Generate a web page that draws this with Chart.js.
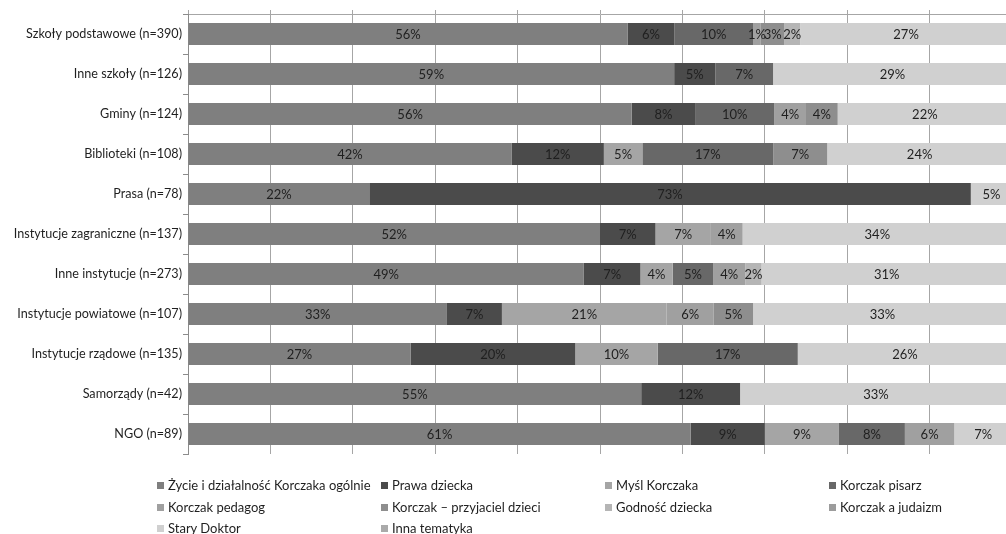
<!DOCTYPE html>
<html lang="pl">
<head>
<meta charset="UTF-8" />
<title>Tematyka wydarzeń korczakowskich</title>
<script src="https://cdn.jsdelivr.net/npm/chart.js"></script>
<style>
    html, body { margin: 0; padding: 0; background: #fff; overflow: hidden; }
    #wrap { position: relative; width: 1006px; height: 534px; overflow: hidden; }
    #chart { position: absolute; left: 0; top: 0; }
    .legend-item {
        position: absolute;
        font: 13px Lato, sans-serif;
        color: #1f1f1f;
        white-space: nowrap;
        line-height: 16px;
    }
    .legend-item i {
        display: inline-block;
        width: 7px;
        height: 7px;
        margin-right: 4px;
        vertical-align: 1px;
    }
</style>
</head>
<body>
<div id="wrap">
    <canvas id="chart" width="1020" height="534"></canvas>
</div>
<script>
// Kategorie instytucji (oś pionowa)
const categories = [
    "Szkoły podstawowe (n=390)",
    "Inne szkoły (n=126)",
    "Gminy (n=124)",
    "Biblioteki (n=108)",
    "Prasa (n=78)",
    "Instytucje zagraniczne (n=137)",
    "Inne instytucje (n=273)",
    "Instytucje powiatowe (n=107)",
    "Instytucje rządowe (n=135)",
    "Samorządy (n=42)",
    "NGO (n=89)",
];

// Odsetki wskazań dla każdej tematyki (wielokrotny wybór, więc sumy > 100)
const zycie      = [56, 59, 56, 42, 22, 52, 49, 33, 27, 55, 61];
const prawa      = [6, 5, 8, 12, 73, 7, 7, 7, 20, 12, 9];
const mysl       = [0, 0, 0, 5, 0, 7, 4, 21, 10, 0, 9];
const pisarz     = [10, 7, 10, 17, 0, 0, 5, 0, 17, 0, 8];
const pedagog    = [1, 0, 4, 0, 0, 4, 4, 6, 0, 0, 6];
const przyjaciel = [3, 0, 4, 7, 0, 0, 0, 5, 0, 0, 0];
const godnosc    = [2, 0, 0, 0, 0, 0, 2, 0, 0, 0, 0];
const judaizm    = [0, 0, 0, 0, 0, 0, 0, 0, 0, 0, 0];
const staryDoktor = [27, 29, 22, 24, 5, 34, 31, 33, 26, 33, 7];
const inna       = [0, 0, 0, 0, 0, 0, 0, 0, 0, 0, 0];

const seriesNames = [
    "Życie i działalność Korczaka ogólnie",
    "Prawa dziecka",
    "Myśl Korczaka",
    "Korczak pisarz",
    "Korczak pedagog",
    "Korczak – przyjaciel dzieci",
    "Godność dziecka",
    "Korczak a judaizm",
    "Stary Doktor",
    "Inna tematyka",
];
const seriesValues = [zycie, prawa, mysl, pisarz, pedagog, przyjaciel, godnosc, judaizm, staryDoktor, inna];
const seriesColors = [
    "#7f7f7f", "#4b4b4b", "#a5a5a5", "#686868", "#a0a0a0",
    "#8e8e8e", "#b5b5b5", "#9c9c9c", "#d0d0d0", "#aaaaaa",
];

// Słupki skumulowane do 100% - udział liczony względem sumy w wierszu
const rowTotals = categories.map((_, i) =>
    seriesValues.reduce((sum, s) => sum + s[i], 0)
);

const datasets = seriesValues.map((vals, k) => ({
    label: seriesNames[k],
    data: vals.map((v, i) => (v / rowTotals[i]) * 100),
    values: vals,
    backgroundColor: seriesColors[k],
    borderWidth: 0,
    barPercentage: 0.55,
    categoryPercentage: 1.0,
}));

// Etykiety z wartościami na środku każdego segmentu
const valueLabels = {
    id: "valueLabels",
    afterDatasetsDraw(chart) {
        const ctx = chart.ctx;
        ctx.save();
        ctx.font = "13px Lato, sans-serif";
        ctx.fillStyle = "#1f1f1f";
        ctx.textAlign = "center";
        ctx.textBaseline = "middle";
        chart.data.datasets.forEach((ds, k) => {
            const meta = chart.getDatasetMeta(k);
            meta.data.forEach((bar, i) => {
                const v = ds.values[i];
                if (!v) return;
                const p = bar.getCenterPoint();
                ctx.fillText(v + "%", p.x, p.y + 1);
            });
        });
        ctx.restore();
    },
};

new Chart(document.getElementById("chart"), {
    type: "bar",
    data: { labels: categories, datasets: datasets },
    options: {
        indexAxis: "y",
        responsive: false,
        animation: false,
        layout: { padding: { top: 10, right: 8, bottom: 80, left: 0 } },
        plugins: {
            legend: { display: false },
            tooltip: { enabled: false },
        },
        scales: {
            x: {
                position: "top",
                stacked: true,
                min: 0,
                max: 100,
                ticks: { display: false, stepSize: 10 },
                grid: { color: "#a6a6a6", lineWidth: 1, tickLength: 4 },
                border: { display: true, color: "#a6a6a6" },
            },
            y: {
                stacked: true,
                ticks: {
                    color: "#1f1f1f",
                    font: { family: "Lato, sans-serif", size: 12.6 },
                    padding: 1,
                },
                grid: {
                    offset: true,
                    drawOnChartArea: false,
                    color: "#8c8c8c",
                    tickLength: 5,
                },
                border: { display: true, color: "#8c8c8c" },
                afterFit(scale) { scale.width = 188; },
            },
        },
    },
    plugins: [valueLabels],
});

// Legenda w czterech kolumnach pod wykresem
const wrap = document.getElementById("wrap");
const legendCols = [157, 381, 605, 829];
const legendRows = [485, 507, 528];
seriesNames.forEach((name, k) => {
    const item = document.createElement("div");
    item.className = "legend-item";
    item.style.left = legendCols[k % 4] + "px";
    item.style.top = (legendRows[Math.floor(k / 4)] - 8) + "px";
    item.innerHTML = '<i style="background:' + seriesColors[k] + '"></i>';
    item.appendChild(document.createTextNode(name));
    wrap.appendChild(item);
});
</script>
</body>
</html>
